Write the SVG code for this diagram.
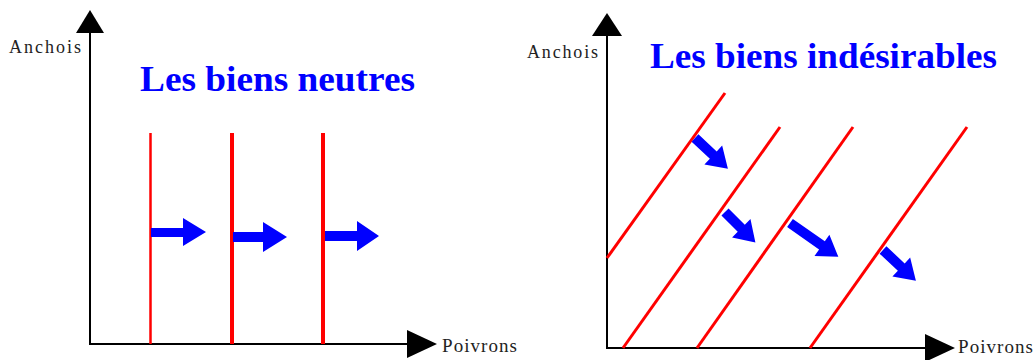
<svg xmlns="http://www.w3.org/2000/svg" width="1034" height="360" viewBox="0 0 1034 360">
<style>
.axis{stroke:#000;stroke-width:2;fill:none}
.head{fill:#000}
.lbl{font-family:"Liberation Serif","Times New Roman",serif;fill:#222}
.title{font-family:"Liberation Serif","Times New Roman",serif;font-weight:bold;font-size:36px;fill:#0000ff}
.curve{stroke:#ff0000;fill:none}
.arr{fill:#0000ff}
</style>
<rect width="1034" height="360" fill="#fff"/>
<g id="left-chart">
  <g id="left-axes">
    <line class="axis" x1="90" y1="30" x2="90" y2="344"/>
    <polygon class="head" points="90,10 76,33 104,33"/>
    <line class="axis" x1="89" y1="344" x2="410" y2="344"/>
    <polygon class="head" points="437,344 407,330 407,358"/>
    <text class="lbl" x="9" y="53" font-size="18" textLength="72" lengthAdjust="spacing">Anchois</text>
    <text class="lbl" x="442" y="352" font-size="19" textLength="75" lengthAdjust="spacing">Poivrons</text>
  </g>
  <text class="title" x="140" y="91" textLength="275" lengthAdjust="spacingAndGlyphs">Les biens neutres</text>
  <g id="left-curves">
    <line class="curve" stroke-width="2.5" x1="150.5" y1="133" x2="150.5" y2="344"/>
    <line class="curve" stroke-width="4" x1="232" y1="133" x2="232" y2="344"/>
    <line class="curve" stroke-width="4" x1="323" y1="133" x2="323" y2="344"/>
  </g>
  <g id="left-arrows">
    <polygon class="arr" points="151,228 183,228 183,218 206,232 183,246 183,237 151,237"/>
    <polygon class="arr" points="233,232 263,232 263,222 287,237 263,252 263,242 233,242"/>
    <polygon class="arr" points="325,231 357,231 357,221 379,236 357,251 357,241 325,241"/>
  </g>
</g>
<g id="right-chart">
  <g id="right-axes">
    <line class="axis" x1="607" y1="33" x2="607" y2="348"/>
    <polygon class="head" points="607,13 592,36 622,36"/>
    <line class="axis" x1="606" y1="348" x2="928" y2="348"/>
    <polygon class="head" points="955,348 925,334 925,362"/>
    <text class="lbl" x="527" y="58" font-size="18" textLength="71" lengthAdjust="spacing">Anchois</text>
    <text class="lbl" x="958" y="353" font-size="19" textLength="75" lengthAdjust="spacing">Poivrons</text>
  </g>
  <text class="title" x="650" y="68" textLength="347" lengthAdjust="spacingAndGlyphs">Les biens indésirables</text>
  <g id="right-curves">
    <line class="curve" stroke-width="3" x1="607" y1="258" x2="725" y2="93"/>
    <line class="curve" stroke-width="3" x1="623" y1="348" x2="780" y2="127"/>
    <line class="curve" stroke-width="3" x1="697" y1="348" x2="853" y2="127"/>
    <line class="curve" stroke-width="3" x1="810" y1="348" x2="967" y2="127"/>
  </g>
  <g id="right-arrows">
    <polygon class="arr" transform="translate(695,138) rotate(43)" points="0,-5 25,-5 25,-13 45,0 25,13 25,5 0,5"/>
    <polygon class="arr" transform="translate(725,212) rotate(45)" points="0,-5 23,-5 23,-13 43,0 23,13 23,5 0,5"/>
    <polygon class="arr" transform="translate(790,223) rotate(35)" points="0,-5 39,-5 39,-13 59,0 39,13 39,5 0,5"/>
    <polygon class="arr" transform="translate(883,250) rotate(43)" points="0,-5 25,-5 25,-13 45,0 25,13 25,5 0,5"/>
  </g>
</g>
</svg>
